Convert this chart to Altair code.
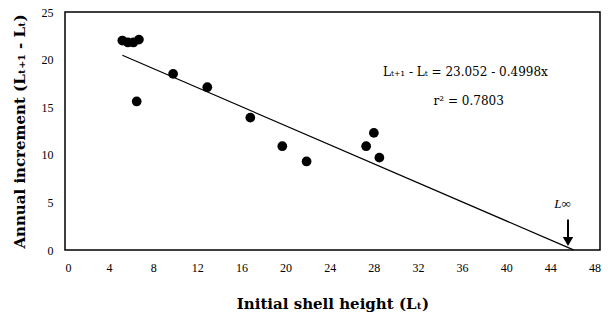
import altair as alt
import pandas as pd

# observed points
init_height = [5.2, 5.7, 6.2, 6.7, 6.5, 9.8, 12.9, 16.8, 19.7, 21.9, 27.3, 28.0, 28.5]
increment = [22.0, 21.8, 21.8, 22.1, 15.6, 18.5, 17.1, 13.9, 10.9, 9.3, 10.9, 12.3, 9.7]

# regression line
intercept = 23.052
slope = -0.4998
line_x = [5.2, 46.1]

# L-infinity arrow
linf_x = [45.6]
linf_label_x = [45.1]
arrow_top = [3.2]
arrow_head_y = [0.9]
linf_label_y = [4.8]

x_ticks = [0, 4, 8, 12, 16, 20, 24, 28, 32, 36, 40, 44, 48]
y_ticks = [0, 5, 10, 15, 20, 25]

eq_text = ["Lₜ₊₁ - Lₜ = 23.052 - 0.4998x", "r² = 0.7803"]
eq_x = [36.3, 36.6]
eq_y = [18.7, 15.7]

FONT = "Liberation Serif"
WIDE = "DejaVu Serif"

pts = pd.DataFrame({"x": init_height, "y": increment})
ln = pd.DataFrame({"x": line_x, "y": [intercept + slope * v for v in line_x]})
arr = pd.DataFrame({"x": linf_x, "lx": linf_label_x, "y": [0.0], "y2": arrow_top,
                    "h": arrow_head_y, "ly": linf_label_y, "t": ["L∞"]})
eq = pd.DataFrame({"x": eq_x, "y": eq_y, "t": eq_text})

xs = alt.Scale(domain=[0, 48.5], nice=False, zero=False)
ys = alt.Scale(domain=[0, 25], nice=False)

xaxis = alt.Axis(values=x_ticks, title="Initial shell height (Lₜ)", grid=False,
                 tickSize=0, labelPadding=12, labelFont=FONT, labelFontSize=12,
                 labelColor="black", titleFont=WIDE, titleFontSize=15,
                 titleFontWeight="bold", titleColor="black", titlePadding=23,
                 domain=False)
yaxis = alt.Axis(values=y_ticks, title="Annual increment (Lₜ₊₁ - Lₜ)", grid=False,
                 tickSize=0, labelPadding=12, labelFont=FONT, labelFontSize=12,
                 labelColor="black", titleFont=WIDE, titleFontSize=15,
                 titleFontWeight="bold", titleColor="black", titlePadding=14,
                 domain=False)

points = alt.Chart(pts).mark_circle(size=95, color="black", opacity=1).encode(
    x=alt.X("x:Q", scale=xs, axis=xaxis),
    y=alt.Y("y:Q", scale=ys, axis=yaxis),
)

reg = alt.Chart(ln).mark_line(color="black", strokeWidth=1.2).encode(
    x=alt.X("x:Q", scale=xs), y=alt.Y("y:Q", scale=ys)
)

shaft = alt.Chart(arr).mark_rule(color="black", strokeWidth=2).encode(
    x=alt.X("x:Q", scale=xs), y=alt.Y("h:Q", scale=ys), y2="y2:Q"
)
head = alt.Chart(arr).mark_point(shape="triangle-down", filled=True, size=110,
                                 color="black", opacity=1).encode(
    x=alt.X("x:Q", scale=xs), y=alt.Y("h:Q", scale=ys)
)
linf = alt.Chart(arr).mark_text(font=FONT, fontSize=13, fontStyle="italic",
                                color="black").encode(
    x=alt.X("lx:Q", scale=xs), y=alt.Y("ly:Q", scale=ys), text="t:N"
)

eqs = alt.Chart(eq).mark_text(font=WIDE, fontSize=12, color="black").encode(
    x=alt.X("x:Q", scale=xs), y=alt.Y("y:Q", scale=ys), text="t:N"
)

chart = alt.layer(reg, points, shaft, head, linf, eqs).properties(
    width=535, height=238,
    autosize=alt.AutoSizeParams(type="none"),
    padding={"left": 65, "top": 12, "right": 8, "bottom": 74},
    background="white",
).configure_view(stroke="black", strokeWidth=1.5)

chart.save("out.html", embed_options={"renderer": "svg", "actions": False})
